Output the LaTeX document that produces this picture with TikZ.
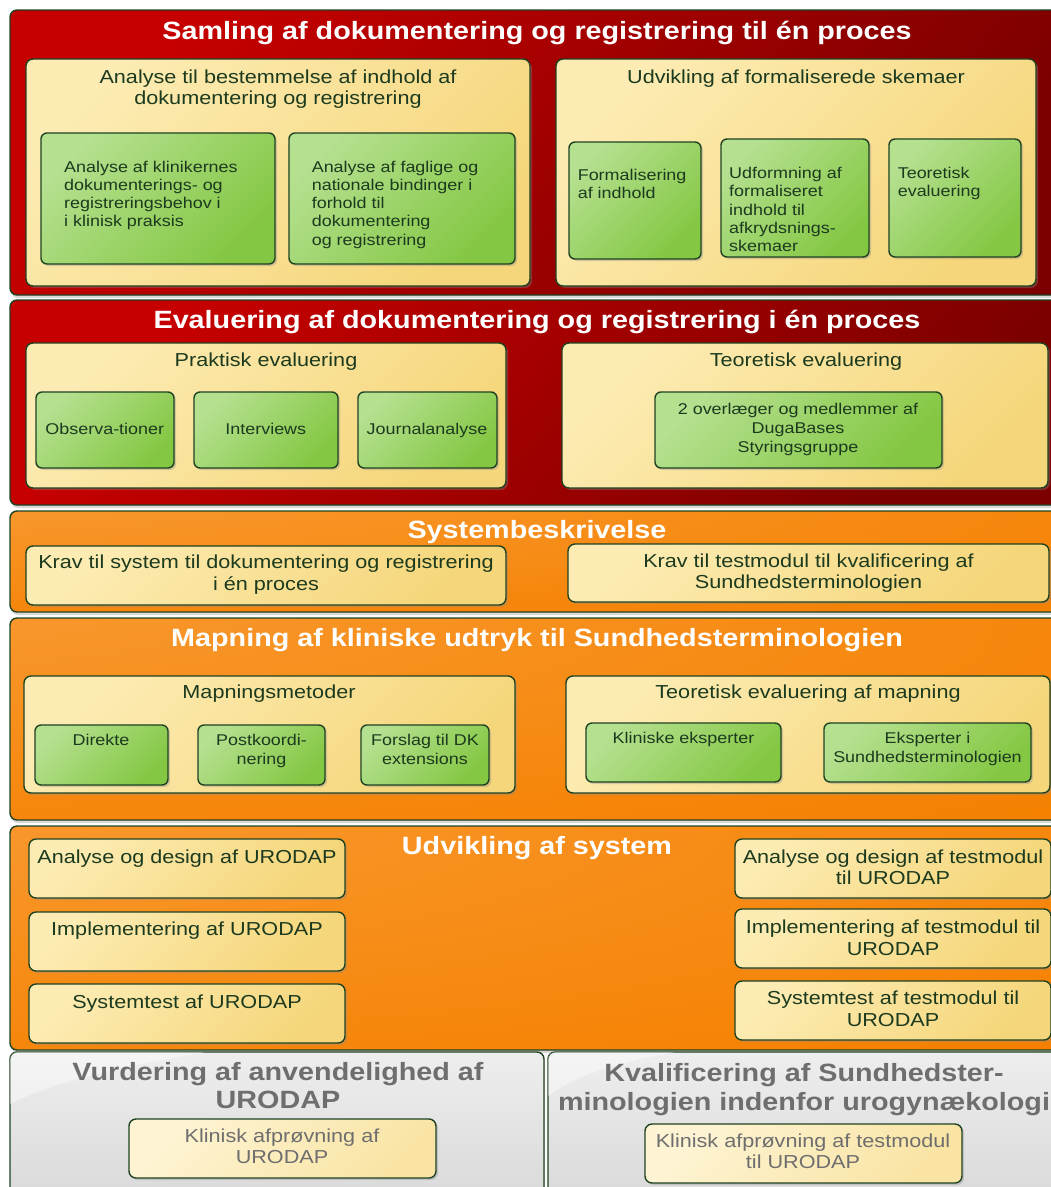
\documentclass[tikz,border=0pt]{standalone}
\usepackage{fontspec}
\setmainfont{Liberation Sans}[FakeStretch=1.15]
\usetikzlibrary{shadows}

\definecolor{redA}{HTML}{C60000}
\definecolor{redB}{HTML}{7C0000}
\definecolor{orA}{HTML}{F9A040}
\definecolor{orMid}{HTML}{F7901E}
\definecolor{orB}{HTML}{F58000}
\definecolor{greyA}{HTML}{EEEEEE}
\definecolor{greyB}{HTML}{D6D6D6}
\definecolor{yelA}{HTML}{FCEBB2}
\definecolor{yelB}{HTML}{F5D67A}
\definecolor{palA}{HTML}{FEF4D4}
\definecolor{palB}{HTML}{F9E4A4}
\definecolor{grnA}{HTML}{B4E08F}
\definecolor{grnB}{HTML}{84C743}
\definecolor{edge}{HTML}{1E4222}
\definecolor{ink}{HTML}{1C3A1E}
\definecolor{greyink}{HTML}{6E6E6E}

% orange bands: light glow in the upper left corner fading into full orange
\pgfdeclareradialshading{orglow}{\pgfpoint{-45bp}{45bp}}{%
  color(0bp)=(orA); color(30bp)=(orMid); color(60bp)=(orB); color(100bp)=(orB)}

\tikzset{
  wh/.style 2 args={minimum width=#1pt, minimum height=#2pt},
  panel/.style={anchor=north west, inner sep=0pt, outer sep=0pt, draw=edge,
    line width=1.4pt, rounded corners=7pt},
  band/.style={panel, drop shadow={shadow xshift=1pt, shadow yshift=-3pt,
    opacity=0.3, fill=black!50}},
  redband/.style={band, top color=redA, bottom color=redB, shading angle=50},
  orband/.style={band, shade, shading=orglow},
  greyband/.style={band, top color=greyA, bottom color=greyB},
  card/.style={panel, drop shadow={shadow xshift=2pt, shadow yshift=-2pt,
    opacity=0.35, fill=black!45}},
  ycard/.style={card, top color=yelA, bottom color=yelB, shading angle=45},
  pcard/.style={card, top color=palA, bottom color=palB, shading angle=45},
  gcard/.style={card, top color=grnA, bottom color=grnB, shading angle=45, rounded corners=6pt},
  ttl/.style={text=white, font=\bfseries\fontsize{25}{28}\selectfont, anchor=base, inner sep=0pt},
  gttl/.style={text=greyink, font=\bfseries\fontsize{25}{28.3}\selectfont, anchor=north,
    inner sep=0pt, align=center},
  sub/.style={text=ink, font=\fontsize{18.8}{21.6}\selectfont, anchor=north, inner sep=0pt, align=center},
  gsub/.style={sub, text=greyink},
  lbl/.style={text=ink, font=\fontsize{15.6}{18.3}\selectfont, inner sep=0pt},
  lblL/.style={lbl, anchor=north west, align=left},
  lblC/.style={lbl, anchor=north, align=center, font=\fontsize{15.6}{19.3}\selectfont},
}

\begin{document}
\begin{tikzpicture}[x=1pt, y=-1pt]
\path[use as bounding box] (0,0) rectangle (1051,1187);
\clip (0,0) rectangle (1051,1187);

% ---------- band 1 ----------
\node[redband, wh={1060}{285}] (band1) at (10,10) {};
\node[ttl] (t1) at (537,39) {Samling af dokumentering og registrering til én proces};
\node[ycard, wh={504}{227}] (boxA) at (26,59) {};
\node[sub] (tA) at (278,69.2) {Analyse til bestemmelse af indhold af\\dokumentering og registrering};
\node[gcard, wh={234}{131}] (g1) at (41,133) {};
\node[lblL] (l1) at (64,160.5) {Analyse af klinikernes\\dokumenterings- og\\registreringsbehov i\\i klinisk praksis};
\node[gcard, wh={226}{131}] (g2) at (289,133) {};
\node[lblL] (l2) at (311.6,160.5) {Analyse af faglige og\\nationale bindinger i\\forhold til\\dokumentering\\og registrering};
\node[ycard, wh={480}{227}] (boxB) at (556,59) {};
\node[sub] (tB) at (796,69.2) {Udvikling af formaliserede skemaer};
\node[gcard, wh={132}{117}] (g3) at (569,142) {};
\node[lblL] (l3) at (577.6,168.8) {Formalisering\\af indhold};
\node[gcard, wh={148}{118}] (g4) at (721,139) {};
\node[lblL] (l4) at (729,167.1) {Udformning af\\formaliseret\\indhold til\\afkrydsnings-\\skemaer};
\node[gcard, wh={132}{118}] (g5) at (889,139) {};
\node[lblL] (l5) at (897.6,167.1) {Teoretisk\\evaluering};

% ---------- band 2 ----------
\node[redband, wh={1060}{205}] (band2) at (10,300) {};
\node[ttl] (t2) at (537,328) {Evaluering af dokumentering og registrering i én proces};
\node[ycard, wh={480}{145}] (boxC) at (26,343) {};
\node[sub] (tC) at (266,352.5) {Praktisk evaluering};
\node[gcard, wh={138}{76}] (g6) at (36,392) {};
\node[lblC] (l6) at (104.8,423.1) {Observa-tioner};
\node[gcard, wh={144}{76}] (g7) at (194,392) {};
\node[lblC] (l7) at (265.8,423.1) {Interviews};
\node[gcard, wh={139}{76}] (g8) at (358,392) {};
\node[lblC] (l8) at (427,423.1) {Journalanalyse};
\node[ycard, wh={486}{145}] (boxD) at (562,343) {};
\node[sub] (tD) at (806,352.5) {Teoretisk evaluering};
\node[gcard, wh={287}{76}] (g9) at (655,392) {};
\node[lblC] (l9) at (798,402.8) {2 overlæger og medlemmer af\\DugaBases\\Styringsgruppe};

% ---------- band 3 ----------
\node[orband, wh={1060}{101}] (band3) at (10,511) {};
\node[ttl] (t3) at (537,538) {Systembeskrivelse};
\node[ycard, wh={480}{59}] (boxE) at (26,546) {};
\node[sub, font=\fontsize{18.8}{22.4}\selectfont] (tE) at (266,554.5) {Krav til system til dokumentering og registrering\\i én proces};
\node[ycard, wh={481}{58}] (boxF) at (568,544) {};
\node[sub] (tF) at (808.5,553.2) {Krav til testmodul til kvalificering af\\Sundhedsterminologien};

% ---------- band 4 ----------
\node[orband, wh={1060}{202}] (band4) at (10,618) {};
\node[ttl] (t4) at (537,646) {Mapning af kliniske udtryk til Sundhedsterminologien};
\node[ycard, wh={491}{117}] (boxG) at (24,676) {};
\node[sub] (tG) at (269,684.2) {Mapningsmetoder};
\node[gcard, wh={133}{60}] (g10) at (35,725) {};
\node[lblC] (l10) at (101,733.8) {Direkte};
\node[gcard, wh={127}{60}] (g11) at (198,725) {};
\node[lblC] (l11) at (261.5,733.8) {Postkoordi-\\nering};
\node[gcard, wh={128}{60}] (g12) at (361,725) {};
\node[lblC] (l12) at (425,733.8) {Forslag til DK\\extensions};
\node[ycard, wh={484}{117}] (boxH) at (566,676) {};
\node[sub] (tH) at (808,684.2) {Teoretisk evaluering af mapning};
\node[gcard, wh={195}{59}] (g13) at (586,723) {};
\node[lblC] (l13) at (683.5,731.5) {Kliniske eksperter};
\node[gcard, wh={207}{59}] (g14) at (824,723) {};
\node[lblC] (l14) at (927.5,731.5) {Eksperter i\\Sundhedsterminologien};

% ---------- band 5 ----------
\node[orband, wh={1060}{224}] (band5) at (10,826) {};
\node[ttl] (t5) at (537,854) {Udvikling af system};
\node[ycard, wh={316}{59}] (L1) at (29,839) {};
\node[sub] (tL1) at (187,849.8) {Analyse og design af URODAP};
\node[ycard, wh={316}{59}] (L2) at (29,912) {};
\node[sub] (tL2) at (187,921.5) {Implementering af URODAP};
\node[ycard, wh={316}{59}] (L3) at (29,984) {};
\node[sub] (tL3) at (187,994.8) {Systemtest af URODAP};
\node[ycard, wh={316}{59}] (R1) at (735,839) {};
\node[sub] (tR1) at (893,849.2) {Analyse og design af testmodul\\til URODAP};
\node[ycard, wh={316}{59}] (R2) at (735,909) {};
\node[sub] (tR2) at (893,919.8) {Implementering af testmodul til\\URODAP};
\node[ycard, wh={316}{59}] (R3) at (735,981) {};
\node[sub] (tR3) at (893,990.8) {Systemtest af testmodul til\\URODAP};

% ---------- band 6 (two grey panels) ----------
\node[greyband, wh={534}{170}] (band6a) at (10,1052) {};
\node[greyband, wh={520}{170}] (band6b) at (548,1052) {};
\begin{scope}
  \clip[rounded corners=7pt] (10,1052) rectangle (544,1230);
  \fill[white, opacity=0.4] (10,1052) -- (205,1052)
    .. controls (150,1062) and (60,1078) .. (10,1104) -- cycle;
\end{scope}
\begin{scope}
  \clip[rounded corners=7pt] (548,1052) rectangle (1070,1230);
  \fill[white, opacity=0.4] (548,1052) -- (675,1052)
    .. controls (630,1060) and (580,1072) .. (548,1096) -- cycle;
\end{scope}
\node[gttl] (t6a) at (278,1062) {Vurdering af anvendelighed af\\URODAP};
\node[gttl] (t6b) at (804,1063.5) {Kvalificering af Sundhedster-\\minologien indenfor urogynækologi};
\node[pcard, wh={307}{59}] (KA) at (129,1119) {};
\node[gsub] (tKA) at (282,1128.2) {Klinisk afprøvning af\\URODAP};
\node[pcard, wh={317}{59}] (KB) at (645,1124) {};
\node[gsub] (tKB) at (803,1133.2) {Klinisk afprøvning af testmodul\\til URODAP};
\end{tikzpicture}
\end{document}
